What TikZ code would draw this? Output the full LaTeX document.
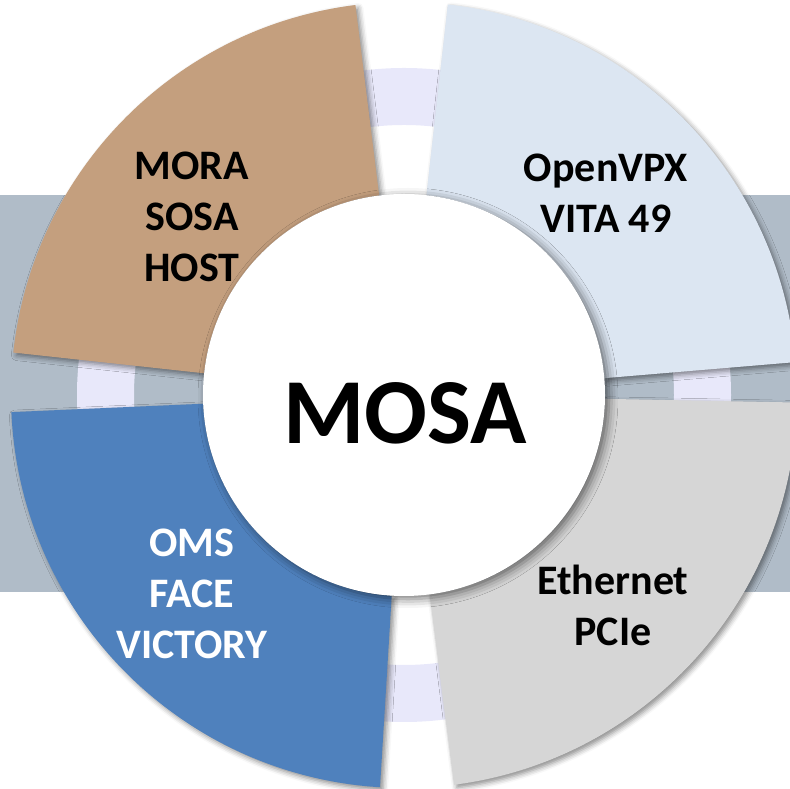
\documentclass[tikz,border=0pt]{standalone}
\usepackage{fontspec}
\setmainfont{Carlito}
\usetikzlibrary{shadows.blur}
\definecolor{bandc}{RGB}{176,188,200}
\definecolor{ringc}{RGB}{232,232,250}
\definecolor{brownc}{RGB}{196,159,126}
\definecolor{lbluec}{RGB}{220,230,242}
\definecolor{grayc}{RGB}{214,214,214}
\definecolor{bluec}{RGB}{79,129,189}
\tikzset{
  sectorshadow/.style={blur shadow={shadow xshift=3pt, shadow yshift=-3pt, shadow blur radius=5pt, shadow opacity=45}},
  label/.style={font=\fontsize{42}{51}\selectfont\bfseries, align=center, inner sep=0pt},
}
\newcommand\mysector[3]{%
  \path[fill=#3, sectorshadow] ([shift={(C)}]#1:201) arc[start angle=#1, end angle=#2, radius=201]
    -- ([shift={(C)}]#2:393) arc[start angle=#2, end angle=#1, radius=393] -- cycle;}
\begin{document}
\begin{tikzpicture}[x=1pt,y=1pt]
\useasboundingbox (0,0) rectangle (790,789);
\coordinate (C) at (404,394);
\fill[bandc] (0,197) rectangle (790,594);
\fill[ringc, even odd rule] (C) circle[radius=327] (C) circle[radius=270];
\mysector{97.1}{173.8}{brownc}
\mysector{4.8}{83.6}{lbluec}
\mysector{-82.7}{-1.1}{grayc}
\mysector{182.5}{266.5}{bluec}
\path[fill=white, blur shadow={shadow xshift=4pt, shadow yshift=-3pt, shadow blur radius=9pt, shadow opacity=55}] (C) circle[radius=201];
\node[label] (mora) at (192,572) {MORA\\SOSA\\HOST};
\node[label] (vpx) at (606,596) {OpenVPX\\VITA 49};
\node[label, text=white] (oms) at (192,195) {OMS\\FACE\\VICTORY};
\node[label] (eth) at (613,184) {Ethernet\\PCIe};
\node[font=\fontsize{93}{100}\selectfont\bfseries, inner sep=0pt] (mosa) at (405,376) {MOSA};
\end{tikzpicture}
\end{document}
